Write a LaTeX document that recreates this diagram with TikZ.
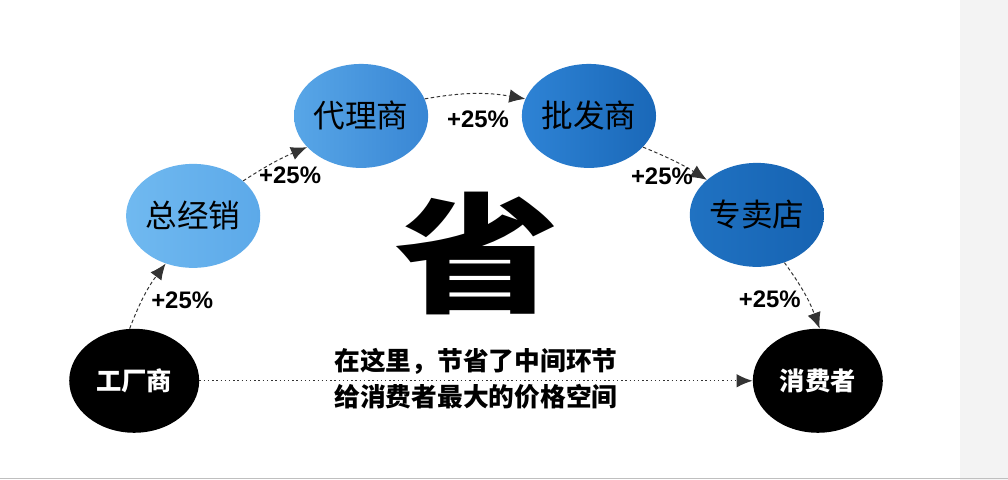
\documentclass[tikz,border=0pt]{standalone}
\usepackage{fontspec}
\usepackage{tikz}
\usetikzlibrary{shapes, arrows.meta}
\setmainfont{Liberation Sans}
\newfontfamily\cjk{Noto Sans CJK SC}

\definecolor{pale}{HTML}{F3F3F3}
\definecolor{blueL}{HTML}{70B9F0}
\definecolor{blueLr}{HTML}{5CA9E9}
\definecolor{blueM}{HTML}{58A6E7}
\definecolor{blueMr}{HTML}{3886D4}
\definecolor{blueD}{HTML}{2E83D5}
\definecolor{blueDr}{HTML}{1A68B8}
\definecolor{blueX}{HTML}{2072C2}
\definecolor{blueXr}{HTML}{1663B2}

\begin{document}
\begin{tikzpicture}[x=0.025cm, y=-0.025cm,
	stage/.style={ellipse, minimum width=3.25cm, minimum height=2.6cm, inner sep=0pt, font=\cjk\fontsize{22.5}{24}\selectfont},
	endpt/.style={ellipse, fill=black, minimum width=3.25cm, minimum height=2.6cm, inner sep=0pt, text=white, font=\cjk\bfseries\fontsize{18}{20}\selectfont},
	flow/.style={dash pattern=on 2.5pt off 1.8pt, draw=black!80, line width=0.7pt, -{Latex[length=4mm,width=3.4mm]}},
	pct/.style={font=\bfseries\fontsize{17}{19}\selectfont},
	note/.style={font=\cjk\bfseries\fontsize{18.3}{20}\selectfont}]
	% canvas
	\fill[white] (0,0) rectangle (1008,480);
	\fill[pale] (960,0) rectangle (1008,480);
	\draw[black!25, line width=0.4pt] (0,478.5) -- (1008,478.5);
	\useasboundingbox (0,0) rectangle (1008,480);

	% the chain
	\node[endpt] (factory) at (134,381) {工厂商};
	\node[stage, left color=blueL, right color=blueLr] (general) at (193,216) {总经销};
	\node[stage, left color=blueM, right color=blueMr] (agent) at (361,116) {代理商};
	\node[stage, left color=blueD, right color=blueDr] (wholesale) at (589,116) {批发商};
	\node[stage, left color=blueX, right color=blueXr] (store) at (757,215) {专卖店};
	\node[endpt] (buyer) at (818,381) {消费者};

	\draw[flow] (factory.95) to[bend left=8] (general.240);
	\draw[flow] (general.35) to[bend left=5] (agent.210);
	\draw[flow] (agent.15) to[bend left=10] (wholesale.165);
	\draw[flow] (wholesale.-30) to[bend left=5] (store.145);
	\draw[flow] (store.-60) to[bend left=8] (buyer.88);
	\draw[dotted, line width=1pt, draw=black!80, -{Latex[length=4mm,width=3.4mm]}] (factory.east) -- (buyer.west);

	\node[pct] (p1) at (182,300) {+25\%};
	\node[pct] (p2) at (290,175) {+25\%};
	\node[pct] (p3) at (478,119) {+25\%};
	\node[pct] (p4) at (662,176) {+25\%};
	\node[pct] (p5) at (770,299) {+25\%};

	% middle
	\node[font=\cjk\bfseries\fontsize{92}{96}\selectfont] (save) at (477,254) {\scalebox{1.28}[1]{省}};
	\node[note] (line1) at (476,362) {在这里，节省了中间环节};
	\node[note] (line2) at (476,397) {给消费者最大的价格空间};
\end{tikzpicture}
\end{document}
